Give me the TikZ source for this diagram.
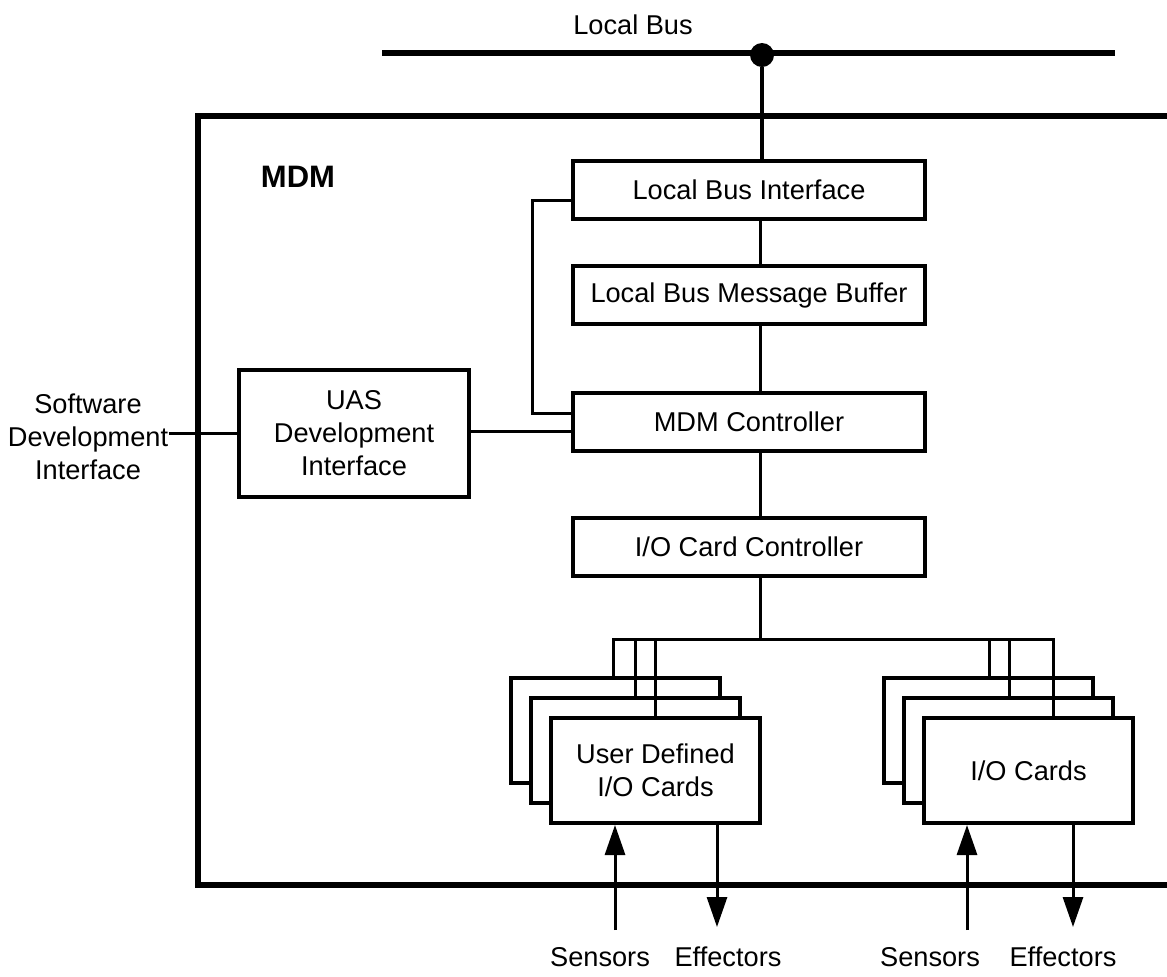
\documentclass[tikz,border=0pt]{standalone}
\usepackage{fontspec}
\setmainfont{Liberation Sans}
\usetikzlibrary{arrows.meta}

\begin{document}
\begin{tikzpicture}[x=0.5pt,y=-0.5pt,
  txt/.style={font=\fontsize{13.6}{16.5}\selectfont, align=center, inner sep=0pt},
  unit/.style={draw, line width=2pt, fill=white, minimum width=176pt,
    minimum height=29pt, inner sep=0pt, font=\fontsize{13.6}{16.5}\selectfont},
  card/.style={draw, line width=2pt, fill=white, minimum width=104.5pt,
    minimum height=52.5pt, inner sep=0pt, align=center,
    font=\fontsize{13.6}{16.5}\selectfont},
  wire/.style={line width=1.5pt},
  heavy/.style={line width=2.6pt},
  sig/.style={line width=1.5pt, -{Triangle[length=15pt,width=10pt]}},
]
\useasboundingbox (0,0) rectangle (1167,976);

% local bus with its tap
\coordinate (busL) at (382,53);
\coordinate (busR) at (1115,53);
\draw[heavy] (busL) -- (busR);
\node[txt] (buslbl) at (633,25) {Local Bus};
\node[circle, fill, inner sep=0pt, minimum size=12pt] (tap) at (762,55) {};

% MDM enclosure (open on the right)
\coordinate (fTR) at (1167,116);
\coordinate (fTL) at (198,116);
\coordinate (fBL) at (198,885);
\coordinate (fBR) at (1167,885);
\draw[heavy, line join=miter] (fTR) -- (fTL) -- (fBL) -- (fBR);
\node[font=\bfseries\fontsize{15.5}{18}\selectfont, inner sep=0pt] (mdm) at (298,177) {MDM};

% central column
\node[unit] (lbi) at (749,189.5) {Local Bus Interface};
\node[unit] (buf) at (749,295) {Local Bus Message Buffer};
\node[unit] (ctl) at (749,422) {MDM Controller};
\node[unit] (ioc) at (749,547) {I/O Card Controller};
\coordinate (sp) at (760,0);

\draw[line width=2pt] (tap) -- (lbi.north -| tap);
\draw[wire] (lbi.south -| sp) -- (buf.north -| sp);
\draw[wire] (buf.south -| sp) -- (ctl.north -| sp);
\draw[wire] (ctl.south -| sp) -- (ioc.north -| sp);

% side link from the bus interface to the controller
\coordinate (sa) at (532,200);
\coordinate (sb) at (532,413);
\draw[wire] (lbi.west |- sa) -- (sa) -- (sb) -- (ctl.west |- sb);

% development interface
\node[draw, line width=2pt, minimum width=115pt, minimum height=63.5pt, txt]
  (uas) at (354,433.5) {UAS\\Development\\Interface};
\node[txt] (sdi) at (88,437) {Software\\Development\\Interface};
\coordinate (j) at (0,431);
\draw[wire] (sdi.east |- uas.west) -- (uas.west);
\draw[wire] (uas.east |- j) -- (ctl.west |- j);

% card stacks
\node[card] (ua) at (615.5,730.5) {};
\node[card] (ub) at (635.5,750.5) {};
\node[card] (uc) at (655.5,770.5) {User Defined\\I/O Cards};
\node[card] (ia) at (988.5,730.5) {};
\node[card] (ib) at (1008.5,750.5) {};
\node[card] (ic) at (1028.5,770.5) {I/O Cards};

% card bus
\coordinate (cb) at (760,639);
\coordinate (cbL) at (613,639);
\coordinate (cbR) at (1053,639);
\coordinate (d2) at (635,639);
\coordinate (d3) at (655,639);
\coordinate (d4) at (989,639);
\coordinate (d5) at (1009,639);
\draw[wire] (ioc.south -| sp) -- (cb);
\draw[wire] (ua.north -| cbL) -- (cbL) -- (cbR) -- (ic.north -| cbR);
\draw[wire] (d2) -- (ub.north -| d2);
\draw[wire] (d3) -- (uc.north -| d3);
\draw[wire] (d4) -- (ia.north -| d4);
\draw[wire] (d5) -- (ib.north -| d5);

% sensor and effector signals
\coordinate (sL) at (615,930);
\coordinate (eL) at (717,927);
\coordinate (sR) at (967,930);
\coordinate (eR) at (1073,927);
\draw[sig] (sL) -- (sL |- uc.south);
\draw[sig] (eL |- uc.south) -- (eL);
\draw[sig] (sR) -- (sR |- ic.south);
\draw[sig] (eR |- ic.south) -- (eR);

\node[txt] (senL) at (600,957) {Sensors};
\node[txt] (effL) at (728,957) {Effectors};
\node[txt] (senR) at (930,957) {Sensors};
\node[txt] (effR) at (1063,957) {Effectors};
\end{tikzpicture}
\end{document}
